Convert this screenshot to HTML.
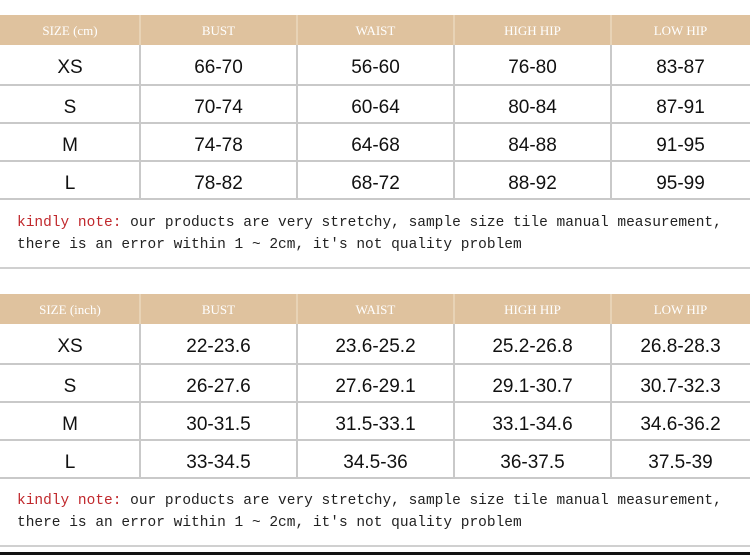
<!DOCTYPE html>
<html><head><style>
body{margin:0;width:750px;height:555px;background:#fff;position:relative;overflow:hidden;font-family:"Liberation Sans",sans-serif}
.h{position:absolute;left:0;width:750px;height:30px;background:#dfc29e}
.t{position:absolute;text-align:center;color:#111;font-size:19px}
.hd{position:absolute;text-align:center;color:#fff;font-family:"Liberation Serif",serif;font-size:13px}
.hl{position:absolute;left:0;width:750px;height:2px;background:#c9c9c9}
.vl{position:absolute;width:2px;background:#c9c9c9}
.n{position:absolute;left:17px;font-family:"Liberation Mono",monospace;font-size:14.5px;color:#222;line-height:22px;white-space:pre}
.n b{font-weight:normal;color:#c0282c}
</style></head><body>
<div class="h" style="top:15px"></div>
<div class="h" style="top:294px"></div>
<div id="a"></div>
<script>
function tbl(top,hdr,rows){
 var xs=[0,140,297,454,611,750],rh=[40,38,38,38],h='';
 for(var i=0;i<5;i++)h+='<div class="hd" style="left:'+xs[i]+'px;width:'+(xs[i+1]-xs[i])+'px;top:'+(top+8)+'px">'+hdr[i]+'</div>';
 var y=top+30;
 for(var r=0;r<4;r++){
  for(var i=0;i<5;i++)h+='<div class="t" style="left:'+xs[i]+'px;width:'+(xs[i+1]-xs[i])+'px;top:'+(y+12)+'px">'+rows[r][i]+'</div>';
  y+=rh[r];h+='<div class="hl" style="top:'+(y-1)+'px"></div>';
 }
 for(var i=1;i<5;i++)h+='<div class="vl" style="left:'+(xs[i]-1)+'px;top:'+(top+30)+'px;height:'+(y-top-30)+'px"></div>';
 for(var i=1;i<5;i++)h+='<div class="vl" style="background:#e8d3b6;left:'+(xs[i]-1)+'px;top:'+top+'px;height:30px"></div>';
 return h;
}
document.getElementById('a').innerHTML=
tbl(15,['SIZE (cm)','BUST','WAIST','HIGH HIP','LOW HIP'],[['XS','66-70','56-60','76-80','83-87'],['S','70-74','60-64','80-84','87-91'],['M','74-78','64-68','84-88','91-95'],['L','78-82','68-72','88-92','95-99']])+
tbl(294,['SIZE (inch)','BUST','WAIST','HIGH HIP','LOW HIP'],[['XS','22-23.6','23.6-25.2','25.2-26.8','26.8-28.3'],['S','26-27.6','27.6-29.1','29.1-30.7','30.7-32.3'],['M','30-31.5','31.5-33.1','33.1-34.6','34.6-36.2'],['L','33-34.5','34.5-36','36-37.5','37.5-39']]);
</script>
<div class="n" style="top:212px"><b>kindly note:</b> our products are very stretchy, sample size tile manual measurement,
there is an error within 1 ~ 2cm, it's not quality problem</div>
<div class="hl" style="top:267px;background:#d0d0d0"></div>
<div class="n" style="top:490px"><b>kindly note:</b> our products are very stretchy, sample size tile manual measurement,
there is an error within 1 ~ 2cm, it's not quality problem</div>
<div class="hl" style="top:545px;background:#d0d0d0"></div>
<div class="hl" style="top:552px;height:3px;background:#111"></div>
</body></html>
